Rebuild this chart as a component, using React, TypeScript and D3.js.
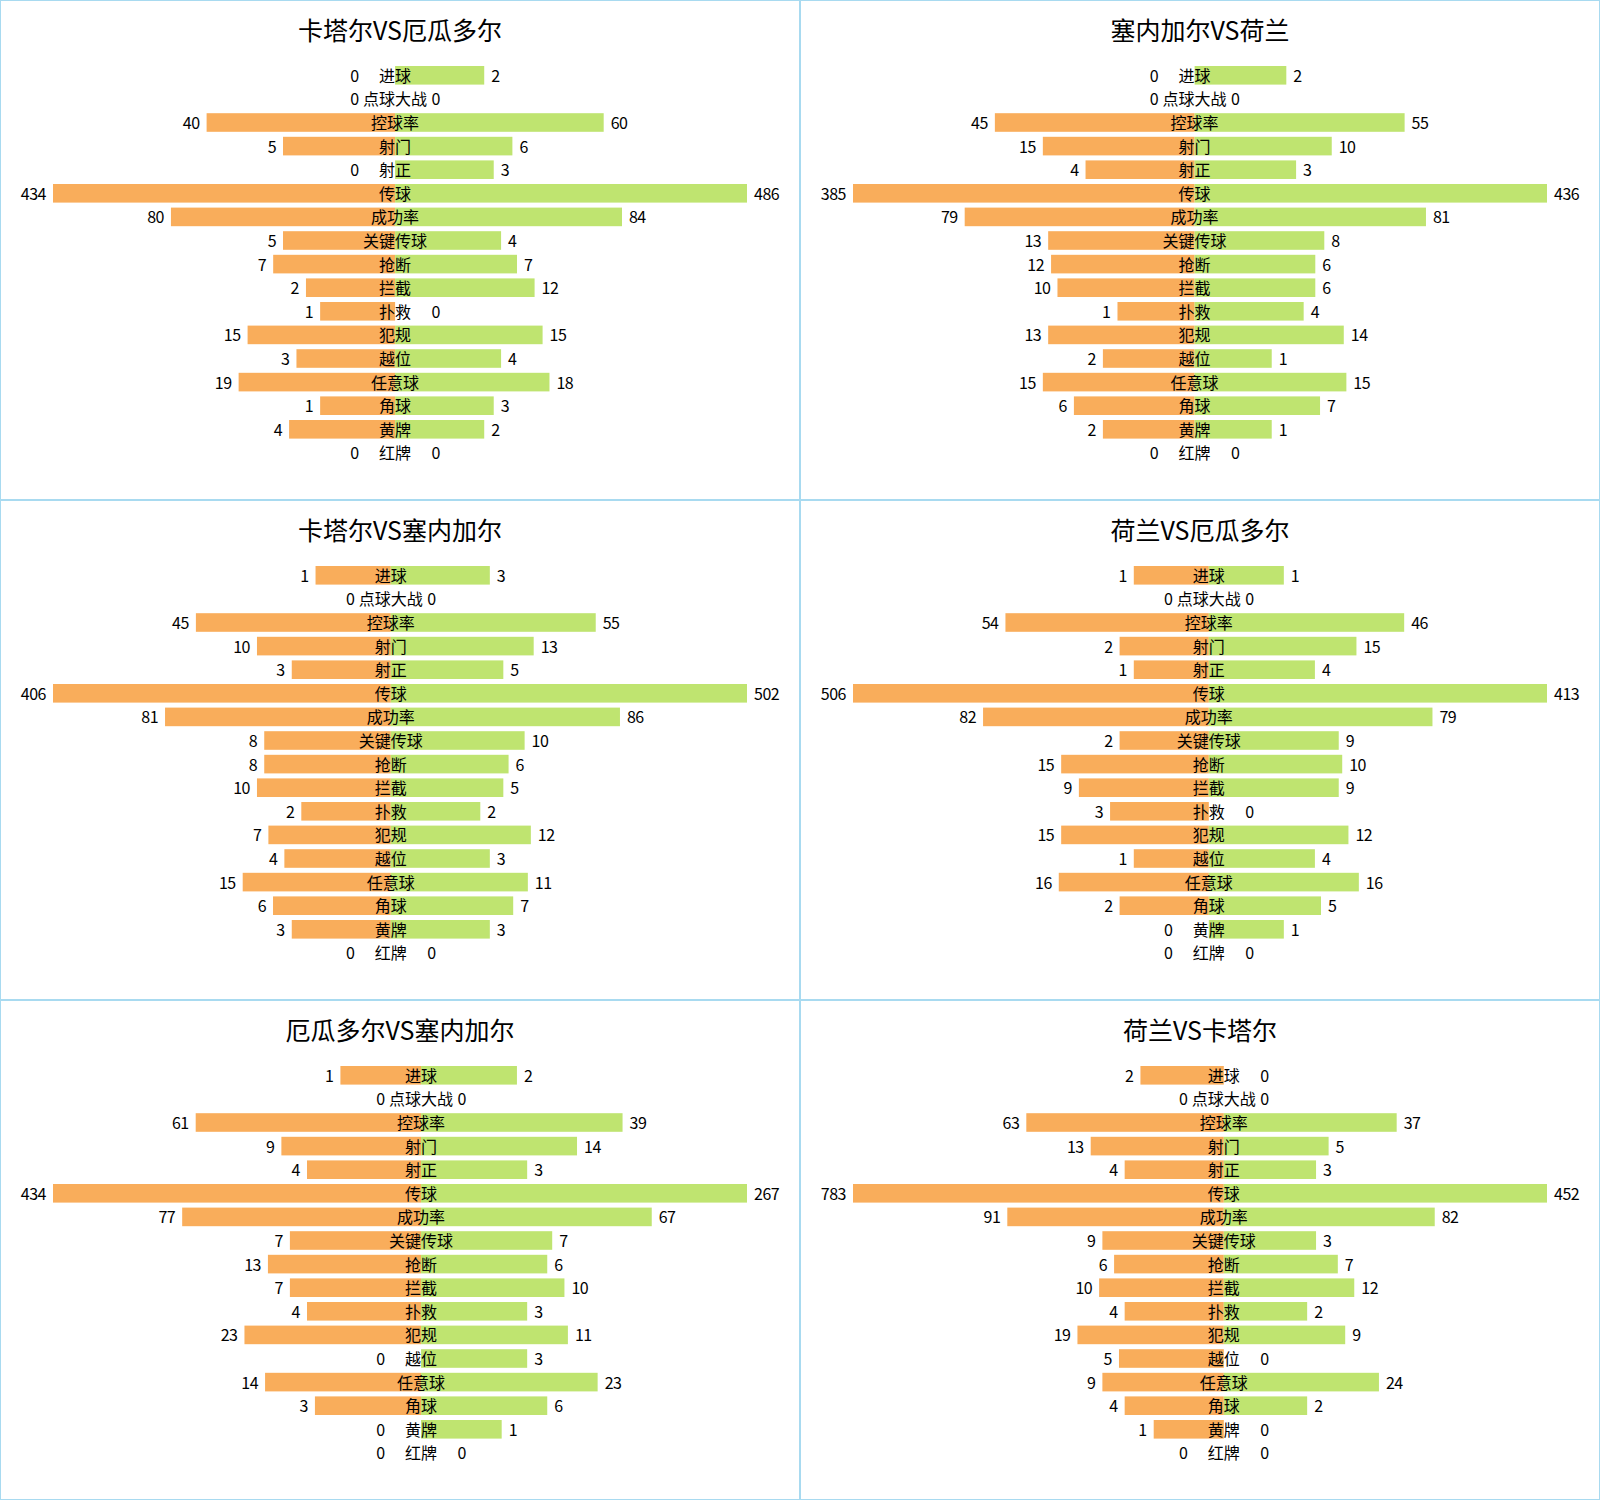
import React from 'react';
import * as d3 from 'd3';

const categories = ['进球', '点球大战', '控球率', '射门', '射正', '传球', '成功率', '关键传球', '抢断', '拦截', '扑救', '犯规', '越位', '任意球', '角球', '黄牌', '红牌'];

const titles = ['卡塔尔VS厄瓜多尔', '塞内加尔VS荷兰', '卡塔尔VS塞内加尔', '荷兰VS厄瓜多尔', '厄瓜多尔VS塞内加尔', '荷兰VS卡塔尔'];

const match1Home = [0, 0, 40, 5, 0, 434, 80, 5, 7, 2, 1, 15, 3, 19, 1, 4, 0];
const match1Away = [2, 0, 60, 6, 3, 486, 84, 4, 7, 12, 0, 15, 4, 18, 3, 2, 0];
const match2Home = [0, 0, 45, 15, 4, 385, 79, 13, 12, 10, 1, 13, 2, 15, 6, 2, 0];
const match2Away = [2, 0, 55, 10, 3, 436, 81, 8, 6, 6, 4, 14, 1, 15, 7, 1, 0];
const match3Home = [1, 0, 45, 10, 3, 406, 81, 8, 8, 10, 2, 7, 4, 15, 6, 3, 0];
const match3Away = [3, 0, 55, 13, 5, 502, 86, 10, 6, 5, 2, 12, 3, 11, 7, 3, 0];
const match4Home = [1, 0, 54, 2, 1, 506, 82, 2, 15, 9, 3, 15, 1, 16, 2, 0, 0];
const match4Away = [1, 0, 46, 15, 4, 413, 79, 9, 10, 9, 0, 12, 4, 16, 5, 1, 0];
const match5Home = [1, 0, 61, 9, 4, 434, 77, 7, 13, 7, 4, 23, 0, 14, 3, 0, 0];
const match5Away = [2, 0, 39, 14, 3, 267, 67, 7, 6, 10, 3, 11, 3, 23, 6, 1, 0];
const match6Home = [2, 0, 63, 13, 4, 783, 91, 9, 6, 10, 4, 19, 5, 9, 4, 1, 0];
const match6Away = [0, 0, 37, 5, 3, 452, 82, 3, 7, 12, 2, 9, 0, 24, 2, 0, 0];

const homeValues = [match1Home, match2Home, match3Home, match4Home, match5Home, match6Home];
const awayValues = [match1Away, match2Away, match3Away, match4Away, match5Away, match6Away];

const W = 1600;
const H = 1500;
const PW = 800;
const PH = 500;
const FONT = '"Noto Sans CJK SC", "Noto Sans", sans-serif';
const ORANGE = '#f9ad5b';
const GREEN = '#bfe470';
const BORDER = '#a8daf0';

type PanelProps = { title: string; home: number[]; away: number[]; x0: number; y0: number };

function Panel({ title, home, away, x0, y0 }: PanelProps) {
  const leftEdge = 53;
  const rightEdge = 747;
  const maxL = d3.max(home) as number;
  const maxR = d3.max(away) as number;
  const root = d3.scalePow().exponent(0.25).domain([0, 1]).range([0, 1]);
  const k = (rightEdge - leftEdge) / (root(maxL) + root(maxR));
  const len = d3.scalePow().exponent(0.25).domain([0, 1]).range([0, k]);
  const cx = leftEdge + len(maxL);
  const y = d3.scalePoint<string>().domain(categories).range([75.3, 75.3 + 16 * 23.6]);
  const bh = 18.6;
  const gap = 7;
  const zeroOff = 36.5;

  return (
    <g transform={`translate(${x0},${y0})`}>
      <rect x={0.5} y={0.5} width={PW - 1} height={PH - 1} fill="#fff" stroke={BORDER} strokeWidth={1} />
      <text x={PW / 2} y={28.5} textAnchor="middle" dominantBaseline="central" fontSize={25} fontFamily={FONT} fill="#000">
        {title}
      </text>
      {categories.map((c, i) => {
        const yc = y(c) as number;
        const wl = len(home[i]);
        const wr = len(away[i]);
        return (
          <g key={c}>
            {wl > 0 && <rect x={cx - wl} y={yc - bh / 2} width={wl} height={bh} fill={ORANGE} />}
            {wr > 0 && <rect x={cx} y={yc - bh / 2} width={wr} height={bh} fill={GREEN} />}
          </g>
        );
      })}
      {categories.map((c, i) => {
        const yc = (y(c) as number) - 0.5;
        const wl = len(home[i]);
        const wr = len(away[i]);
        const lx = home[i] === 0 ? cx - zeroOff : cx - wl - gap;
        const rx = away[i] === 0 ? cx + zeroOff : cx + wr + gap;
        return (
          <g key={c + 't'} fontFamily={FONT} fontSize={16} fill="#000">
            <text x={cx} y={yc} textAnchor="middle" dominantBaseline="central">{c}</text>
            <text x={lx} y={yc} textAnchor="end" dominantBaseline="central" letterSpacing={-0.5}>{home[i]}</text>
            <text x={rx} y={yc} textAnchor="start" dominantBaseline="central" letterSpacing={-0.5}>{away[i]}</text>
          </g>
        );
      })}
    </g>
  );
}

export default function App() {
  return (
    <svg width={W} height={H} style={{ position: 'absolute', left: 0, top: 0, background: '#fff' }}>
      {titles.map((t, i) => (
        <Panel key={t} title={t} home={homeValues[i]} away={awayValues[i]} x0={(i % 2) * PW} y0={Math.floor(i / 2) * PH} />
      ))}
    </svg>
  );
}
